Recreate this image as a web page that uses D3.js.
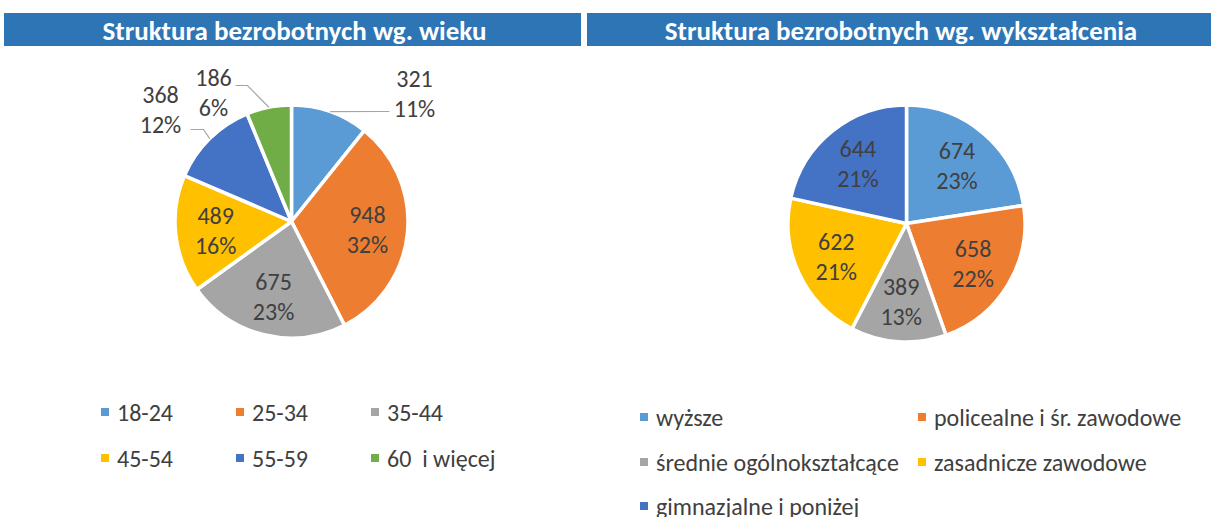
<!DOCTYPE html>
<html lang="pl">
<head>
<meta charset="UTF-8" />
<title>Struktura bezrobotnych</title>
<script src="https://cdn.jsdelivr.net/npm/d3@7"></script>
<style>
  body { margin: 0; background: #fff; }
  svg { display: block; font-family: Carlito, Lato, sans-serif; }
  text { white-space: pre; }
</style>
</head>
<body>
<svg width="1211" height="517"></svg>
<script>
// data
const ageLabels = ["18-24", "25-34", "35-44", "45-54", "55-59", "60  i więcej"];
const ageValues = [321, 948, 675, 489, 368, 186];
const eduLabels = ["wyższe", "policealne i śr. zawodowe", "średnie ogólnokształcące", "zasadnicze zawodowe", "gimnazjalne i poniżej"];
const eduValues = [674, 658, 389, 622, 644];
const officeColors = ["#5B9BD5", "#ED7D31", "#A5A5A5", "#FFC000", "#4472C4", "#70AD47"];

const svg = d3.select("svg");
const textColor = "#404040";

// percentages that sum to 100 (largest remainder, like Excel shows here)
function percents(values) {
  const total = d3.sum(values);
  const raw = values.map(v => v / total * 100);
  const res = raw.map(Math.floor);
  let left = 100 - d3.sum(res);
  d3.range(values.length).sort((a, b) => (raw[b] - res[b]) - (raw[a] - res[a]))
    .forEach(i => { if (left > 0) { res[i]++; left--; } });
  return res;
}

// title bars
const titles = [
  { text: "Struktura bezrobotnych wg. wieku", x0: 4, x1: 581 },
  { text: "Struktura bezrobotnych wg. wykształcenia", x0: 587, x1: 1211 }
];
titles.forEach(t => {
  svg.append("rect").attr("x", t.x0).attr("y", 13).attr("width", t.x1 - t.x0).attr("height", 33)
    .attr("fill", "#2E75B6");
  svg.append("text").attr("x", (t.x0 + t.x1) / 2 + 2).attr("y", 30)
    .attr("text-anchor", "middle").attr("dominant-baseline", "central")
    .attr("fill", "#fff").attr("font-weight", "bold").attr("font-size", 27)
    .text(t.text);
});

function drawPie(cfg) {
  const g = svg.append("g").attr("transform", `translate(${cfg.cx},${cfg.cy})`);
  const pct = percents(cfg.values);
  const pie = d3.pie().sort(null).value(d => d)(cfg.values);
  const arc = d3.arc().innerRadius(0).outerRadius(cfg.r);
  const color = d3.scaleOrdinal().domain(d3.range(cfg.values.length)).range(officeColors);

  g.selectAll("path").data(pie).join("path")
    .attr("d", arc)
    .attr("fill", (d, i) => color(i))
    .attr("stroke", "#fff").attr("stroke-width", 3.5).attr("stroke-linejoin", "round");

  pie.forEach((d, i) => {
    const mid = (d.startAngle + d.endAngle) / 2;
    const out = cfg.outside && cfg.outside[i];
    let tx, ty;
    if (out) {
      tx = out.tx; ty = out.ty;
      const ex = Math.sin(mid) * cfg.r, ey = -Math.cos(mid) * cfg.r;
      g.append("polyline")
        .attr("points", [[ex, ey], [out.bx, out.ly], [out.lx, out.ly]].map(p => p.join(",")).join(" "))
        .attr("fill", "none").attr("stroke", "#A6A6A6").attr("stroke-width", 1.2);
    } else {
      const rr = cfg.r * 0.655;
      tx = Math.sin(mid) * rr; ty = -Math.cos(mid) * rr;
    }
    const t = g.append("text").attr("text-anchor", "middle").attr("fill", textColor)
      .attr("font-size", 24).attr("dominant-baseline", "central");
    t.append("tspan").attr("x", tx).attr("y", ty - 15).text(d.value);
    t.append("tspan").attr("x", tx).attr("y", ty + 15).text(pct[i] + "%");
  });
}

// outside label layout (relative to pie centre), Excel best-fit style
drawPie({
  cx: 291.5, cy: 221.5, r: 116.5, values: ageValues,
  outside: {
    0: { tx: 123, ty: -129, bx: 88, ly: -110, lx: 98 },
    4: { tx: -131, ty: -113, bx: -88, ly: -92, lx: -101 },
    5: { tx: -78, ty: -130, bx: -44, ly: -136, lx: -56 }
  }
});
drawPie({ cx: 906.5, cy: 223.5, r: 118.5, values: eduValues });

function drawLegend(labels, items) {
  items.forEach((p, i) => {
    svg.append("rect").attr("x", p[0]).attr("y", p[1] - 4).attr("width", 8).attr("height", 8)
      .attr("fill", officeColors[i]);
    svg.append("text").attr("x", p[0] + 16).attr("y", p[1]).attr("dominant-baseline", "central")
      .attr("fill", textColor).attr("font-size", 24).text(labels[i]);
  });
}

const ageLegendCols = [101, 236, 371], ageLegendRows = [412, 458];
drawLegend(ageLabels, ageLabels.map((l, i) => [ageLegendCols[i % 3], ageLegendRows[Math.floor(i / 3)]]));
const eduLegendCols = [640, 918], eduLegendRows = [417, 462, 506];
drawLegend(eduLabels, eduLabels.map((l, i) => [eduLegendCols[i % 2], eduLegendRows[Math.floor(i / 2)]]));
</script>
</body>
</html>
